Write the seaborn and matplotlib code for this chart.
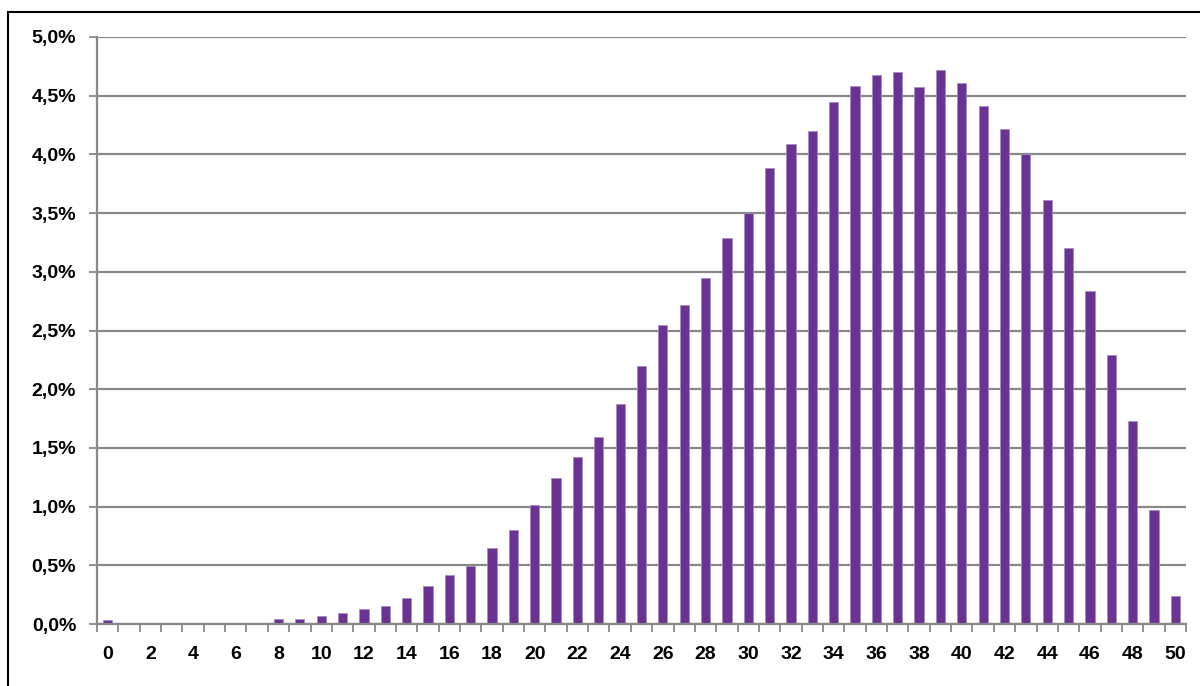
# Distribution chart, Excel style bars
import pandas as pd
import seaborn as sns
import matplotlib.pyplot as plt
from matplotlib.patches import Rectangle
from matplotlib.ticker import MultipleLocator, FixedLocator

# Data (share in percent)
values = [0.03, 0, 0, 0, 0, 0, 0, 0, 0.04, 0.04,
          0.07, 0.09, 0.13, 0.15, 0.22, 0.32, 0.42, 0.49, 0.65, 0.80,
          1.01, 1.24, 1.42, 1.59, 1.87, 2.20, 2.55, 2.72, 2.95, 3.29,
          3.50, 3.88, 4.09, 4.20, 4.45, 4.58, 4.68, 4.70, 4.57, 4.72,
          4.61, 4.41, 4.22, 4.00, 3.61, 3.20, 2.84, 2.29, 1.73, 0.97,
          0.24]
categories = list(range(len(values)))
y_ticks = [0.0, 0.5, 1.0, 1.5, 2.0, 2.5, 3.0, 3.5, 4.0, 4.5, 5.0]
y_labels = ['0,0%', '0,5%', '1,0%', '1,5%', '2,0%', '2,5%',
            '3,0%', '3,5%', '4,0%', '4,5%', '5,0%']

df = pd.DataFrame({'k': categories, 'share': values})

sns.set_style('white')
plt.rcParams['font.family'] = ['Liberation Sans', 'DejaVu Sans']

fig = plt.figure(figsize = (12, 6.86), dpi = 100)
ax = fig.add_axes([97 / 1200, 1 - 624 / 686, (1186 - 97) / 1200, (624 - 37) / 686])

sns.barplot(data = df, x = 'k', y = 'share', order = categories, color = '#6A3393',
            saturation = 1, width = 0.43, edgecolor = '#A58BC0', linewidth = 0.6, ax = ax)

ax.set_xlim(-0.5, len(values) - 0.5)
ax.set_ylim(0, 5.0)

# gridlines
ax.set_yticks(y_ticks)
ax.set_yticklabels(y_labels, fontsize = 14, fontweight = 'bold', color = 'black')
ax.yaxis.grid(True, color = '#888888', linewidth = 1.6)
ax.set_axisbelow(True)

# x labels every 2, tick marks between categories
ax.xaxis.set_major_locator(FixedLocator(categories[::2]))
ax.set_xticklabels([str(c) for c in categories[::2]], fontsize = 14, fontweight = 'bold', color = 'black')
ax.xaxis.set_minor_locator(MultipleLocator(1, offset = 0.5))
ax.tick_params(axis = 'x', which = 'major', length = 0, pad = 16)
ax.tick_params(axis = 'x', which = 'minor', bottom = True, length = 6, width = 1.3, color = '#888888', direction = 'out')
ax.tick_params(axis = 'y', left = True, length = 6, width = 1.3, color = '#888888', direction = 'out', pad = 9)

for side in ['top', 'right']:
    ax.spines[side].set_visible(False)
for side in ['left', 'bottom']:
    ax.spines[side].set_color('#888888')
    ax.spines[side].set_linewidth(1.6)

ax.set_xlabel('')
ax.set_ylabel('')

# outer chart frame
fig.add_artist(Rectangle((7.5 / 1200, -0.2), 1.2, 0.2 + 1 - 12 / 686, transform = fig.transFigure,
                         fill = False, edgecolor = 'black', linewidth = 1.5))

plt.savefig('out.png', dpi = 100)
